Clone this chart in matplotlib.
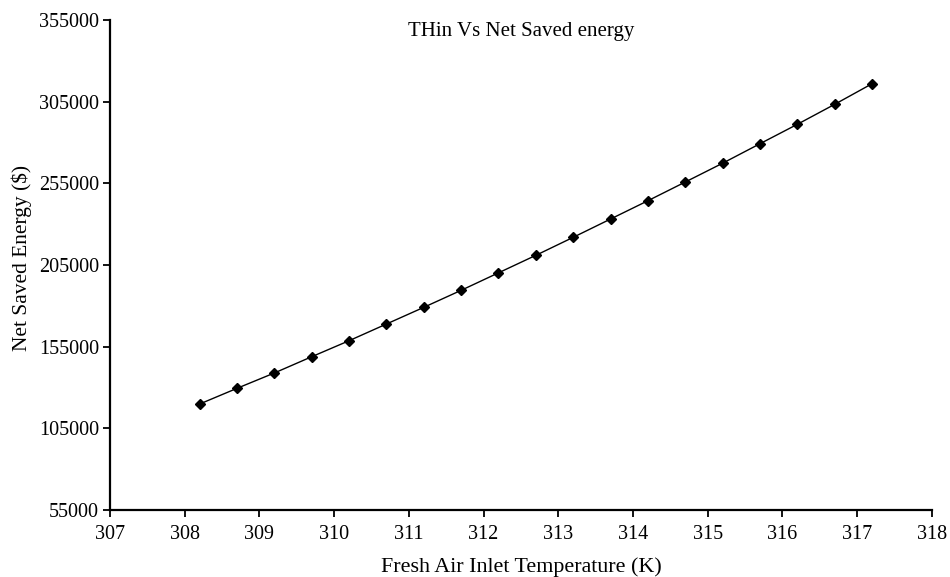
import matplotlib.pyplot as plt

# Fresh air inlet temperature (K) vs net saved energy ($)
temps = [308.2, 308.7, 309.2, 309.7, 310.2, 310.7, 311.2, 311.7, 312.2, 312.7,
         313.2, 313.7, 314.2, 314.7, 315.2, 315.7, 316.2, 316.7, 317.2]
saved = [119900, 129500, 138900, 148850, 158650, 168870, 179090, 189500, 200210, 210930,
         221950, 233150, 244350, 255800, 267310, 279250, 291130, 303370, 315980]

x_ticks = list(range(307, 319))
y_ticks = [55000, 105000, 155000, 205000, 255000, 305000, 355000]

plt.rcParams["font.family"] = ["Liberation Serif", "DejaVu Serif"]

fig = plt.figure(figsize=(9.5, 5.77), dpi=100)
ax = fig.add_axes([0.1158, 0.1161, 0.865, 0.8492])

ax.plot(temps, saved, color="black", linewidth=1.0, marker="D", markersize=5,
        markerfacecolor="black", markeredgecolor="black")

ax.set_xlim(307, 318)
ax.set_ylim(55000, 355000)
ax.set_xticks(x_ticks)
ax.set_yticks(y_ticks)
ax.set_xticklabels([str(t) for t in x_ticks])
ax.set_yticklabels([str(t) for t in y_ticks])

for side in ("top", "right"):
    ax.spines[side].set_visible(False)
for side in ("left", "bottom"):
    ax.spines[side].set_linewidth(1.6)

ax.tick_params(axis="both", direction="out", length=5, width=1.3, labelsize=14.5)
ax.tick_params(axis="x", pad=6)
ax.tick_params(axis="y", pad=3)
ax.set_xlabel("Fresh Air Inlet Temperature (K)", fontsize=15.8, labelpad=9)
ax.set_ylabel("Net Saved Energy ($)", fontsize=15.4)
ax.yaxis.set_label_coords(-0.095, 0.515)
ax.set_title("THin Vs Net Saved energy", fontsize=15, y=0.95)

fig.savefig("out.png", dpi=100)
